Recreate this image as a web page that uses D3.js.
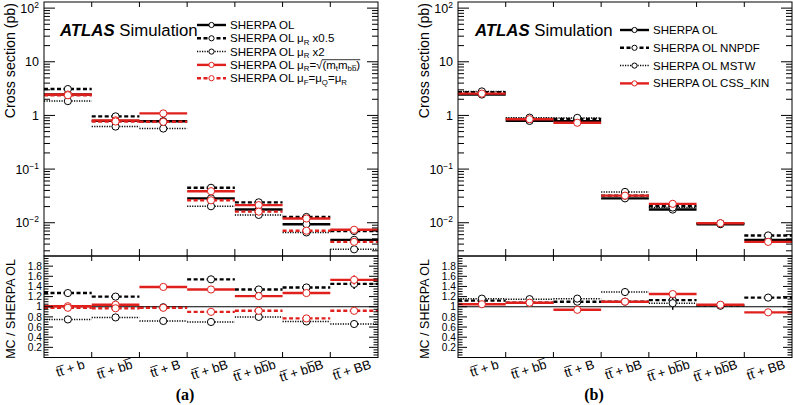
<!DOCTYPE html>
<html>
<head>
<meta charset="utf-8">
<script src="https://cdn.jsdelivr.net/npm/d3@7"></script>
<style>
  body { margin: 0; background: #fff; }
  svg { font-family: "Liberation Sans", Arial, sans-serif; }
</style>
</head>
<body>
<svg id="chart" width="793" height="405"></svg>
<script>
// Categories (bins)
const categories = ["tt\u0305 + b", "tt\u0305 + bb\u0305", "tt\u0305 + B", "tt\u0305 + bB",
  "tt\u0305 + bb\u0305b", "tt\u0305 + bb\u0305B", "tt\u0305 + BB"];

// Cross sections (pb), nominal SHERPA OL
const nominal = [2.45, 0.79, 0.78, 0.0285, 0.0176, 0.0094, 0.0048];

// Panel (a): scale variations
const muHalf = [3.1, 0.96, 0.77, 0.0448, 0.0240, 0.0128, 0.0070];
const muTwo = [1.85, 0.62, 0.57, 0.0203, 0.0140, 0.0066, 0.0032];
const muSqrt = [2.45, 0.81, 1.09, 0.0387, 0.0213, 0.0120, 0.0074];
const muFQ = [2.38, 0.77, 0.76, 0.0262, 0.0161, 0.0071, 0.0044];

const muHalfRatio = [1.27, 1.20, 0.99, 1.54, 1.34, 1.38, 1.45];
const muTwoRatio = [0.75, 0.79, 0.72, 0.70, 0.80, 0.71, 0.66];
const muSqrtRatio = [1.01, 1.04, 1.39, 1.34, 1.21, 1.27, 1.53];
const muFQRatio = [0.98, 0.97, 0.98, 0.90, 0.92, 0.77, 0.92];

const muHalfErr = [0.01, 0.01, 0.01, 0.02, 0.04, 0.04, 0.10];
const muSqrtErr = [0.01, 0.01, 0.01, 0.02, 0.06, 0.06, 0.09];
const muFQErr = [0.01, 0.01, 0.01, 0.01, 0.03, 0.02, 0.02];

// Panel (b): PDF and shower variations
const nnpdf = [2.7, 0.86, 0.86, 0.032, 0.0203, 0.0097, 0.0058];
const mstw = [2.8, 0.91, 0.90, 0.0375, 0.0192, 0.0097, null];
const cssKin = [2.55, 0.85, 0.73, 0.032, 0.0225, 0.0098, 0.0044];

const nnpdfRatio = [1.12, 1.08, 1.10, 1.10, 1.13, 1.03, 1.18];
const mstwRatio = [1.16, 1.15, 1.16, 1.29, 1.07, 1.02, null];
const cssKinRatio = [1.05, 1.08, 0.94, 1.10, 1.25, 1.04, 0.89];

const nnpdfErr = [0.01, 0.01, 0.01, 0.02, 0.10, 0.05, 0.06];
const mstwErr = [0.01, 0.01, 0.01, 0.02, 0.13, 0.05, 0];
const cssKinErr = [0.01, 0.01, 0.01, 0.02, 0.04, 0.04, 0.02];

const red = "#e0201c";
const styles = {
  solid: {dash: null, width: 2.4},
  dashed: {dash: "4,2.5", width: 2.4},
  dotted: {dash: "1.2,1.3", width: 1.5}
};

let svg = d3.select("#chart");

function drawPanel(p) {
  let g = svg.append("g");
  let x = d3.scaleLinear().domain([0, categories.length]).range([p.x0, p.x1]);
  let y = d3.scaleLog().domain([2.4e-3, 130]).range([256, 2]);
  let yr = d3.scaleLinear().domain([0, 2]).range([357.5, 256]);

  // Ratio reference line
  g.append("line")
    .attr("x1", p.x0).attr("x2", p.x1)
    .attr("y1", yr(1)).attr("y2", yr(1))
    .attr("stroke", "#000").attr("stroke-width", 1);

  // Series
  p.series.forEach(s => {
    let st = styles[s.style];
    let drawSet = (vals, scale, errs) => {
      let sg = g.append("g");
      vals.forEach((v, i) => {
        if (v == null) return;
        sg.append("line")
          .attr("x1", x(i)).attr("x2", x(i + 1))
          .attr("y1", scale(v)).attr("y2", scale(v))
          .attr("stroke", s.color).attr("stroke-width", st.width)
          .attr("stroke-dasharray", st.dash);
        if (errs && errs[i] > 0.015) {
          sg.append("line")
            .attr("x1", x(i + 0.5)).attr("x2", x(i + 0.5))
            .attr("y1", scale(v - errs[i])).attr("y2", scale(v + errs[i]))
            .attr("stroke", s.color).attr("stroke-width", 1.5);
        }
        sg.append("circle")
          .attr("cx", x(i + 0.5)).attr("cy", scale(v)).attr("r", 3.6)
          .attr("fill", "#fff").attr("stroke", s.color).attr("stroke-width", 1);
      });
    };
    if (s.main) drawSet(s.main, y, null);
    if (s.ratio) drawSet(s.ratio, yr, s.err);
  });

  // Frames
  [[2, 256], [256, 357.5]].forEach(([t, b]) => {
    g.append("rect")
      .attr("x", p.x0).attr("y", t)
      .attr("width", p.x1 - p.x0).attr("height", b - t)
      .attr("fill", "none").attr("stroke", "#000").attr("stroke-width", 1);
  });

  // Log y ticks (both sides)
  let majors = [1e-2, 1e-1, 1, 10, 100];
  let minors = [];
  for (let e = -3; e <= 2; e++) {
    for (let m = 2; m <= 9; m++) {
      let v = m * Math.pow(10, e);
      if (v >= 2.4e-3 && v <= 130) minors.push(v);
    }
  }
  let tickG = g.append("g").attr("stroke", "#000").attr("stroke-width", 1);
  majors.forEach(v => {
    tickG.append("line").attr("x1", p.x0).attr("x2", p.x0 + 11).attr("y1", y(v)).attr("y2", y(v));
    tickG.append("line").attr("x1", p.x1).attr("x2", p.x1 - 11).attr("y1", y(v)).attr("y2", y(v));
  });
  minors.forEach(v => {
    tickG.append("line").attr("x1", p.x0).attr("x2", p.x0 + 6).attr("y1", y(v)).attr("y2", y(v));
    tickG.append("line").attr("x1", p.x1).attr("x2", p.x1 - 6).attr("y1", y(v)).attr("y2", y(v));
  });

  // Ratio y ticks
  d3.range(0.05, 2.0, 0.05).forEach(v => {
    let major = Math.abs(v * 5 - Math.round(v * 5)) < 1e-6;
    let len = major ? 9 : 4.5;
    tickG.append("line").attr("x1", p.x0).attr("x2", p.x0 + len).attr("y1", yr(v)).attr("y2", yr(v));
    tickG.append("line").attr("x1", p.x1).attr("x2", p.x1 - len).attr("y1", yr(v)).attr("y2", yr(v));
  });

  // X ticks at bin edges
  d3.range(1, categories.length).forEach(i => {
    tickG.append("line").attr("x1", x(i)).attr("x2", x(i)).attr("y1", 2).attr("y2", 7);
    tickG.append("line").attr("x1", x(i)).attr("x2", x(i)).attr("y1", 256).attr("y2", 249);
    tickG.append("line").attr("x1", x(i)).attr("x2", x(i)).attr("y1", 256).attr("y2", 261);
    tickG.append("line").attr("x1", x(i)).attr("x2", x(i)).attr("y1", 357.5).attr("y2", 352);
  });

  // Y tick labels (main)
  let powers = {100: "2", 10: "", 1: "", 0.1: "\u22121", 0.01: "\u22122"};
  majors.forEach(v => {
    let t = g.append("text")
      .attr("x", p.x0 - 5).attr("y", y(v) + 4.5)
      .attr("text-anchor", "end").attr("font-size", 12.5);
    if (v === 1) { t.text("1"); return; }
    t.append("tspan").text("10");
    if (powers[v]) {
      t.append("tspan").attr("dy", -5).attr("font-size", 8.5).text(powers[v]);
    }
  });

  // Y tick labels (ratio)
  d3.range(1, 10).forEach(k => {
    let v = k * 0.2;
    g.append("text")
      .attr("x", p.x0 - 2).attr("y", yr(v) + 3.6)
      .attr("text-anchor", "end").attr("font-size", 10.2)
      .text(Math.abs(v - 1) < 1e-6 ? "1" : d3.format(".1f")(v));
  });

  // X labels
  categories.forEach((c, i) => {
    let px = x(i + 1) - 6, py = 368;
    g.append("text")
      .attr("transform", `translate(${px},${py}) rotate(-18)`)
      .attr("text-anchor", "end").attr("font-size", 13)
      .text(c);
  });

  // Axis titles
  g.append("text")
    .attr("transform", `translate(${p.x0 - 29},3) rotate(-90)`)
    .attr("text-anchor", "end").attr("font-size", 14.2)
    .text("Cross section (pb)");
  g.append("text")
    .attr("transform", `translate(${p.x0 - 29},259) rotate(-90)`)
    .attr("text-anchor", "end").attr("font-size", 12.5)
    .text("MC / SHERPA OL");

  // Panel letter
  g.append("text")
    .attr("x", p.letterX).attr("y", 400)
    .attr("text-anchor", "middle")
    .attr("font-family", "Liberation Serif, serif").attr("font-weight", "bold")
    .attr("font-size", 16)
    .text(p.letter);

  // ATLAS label
  let at = g.append("text").attr("x", p.atlasX).attr("y", 36).attr("font-size", 16.8);
  at.append("tspan").attr("font-weight", "bold").attr("font-style", "italic").text("ATLAS");
  at.append("tspan").text(" Simulation");

  // Legend
  p.series.forEach((s, k) => {
    let ly = p.legY + k * p.legStep;
    let st = styles[s.style];
    g.append("line")
      .attr("x1", p.legX).attr("x2", p.legX + 29)
      .attr("y1", ly).attr("y2", ly)
      .attr("stroke", s.color).attr("stroke-width", st.width)
      .attr("stroke-dasharray", st.dash);
    g.append("circle")
      .attr("cx", p.legX + 14.5).attr("cy", ly).attr("r", 2.6)
      .attr("fill", "#fff").attr("stroke", s.color).attr("stroke-width", 1);
    let t = g.append("text")
      .attr("x", p.legX + 33).attr("y", ly + 4).attr("font-size", 11.5);
    s.label.forEach(part => {
      let sp = t.append("tspan").text(part.t);
      if (part.sub) sp.attr("font-size", 7.8).attr("dy", 2.5);
      if (part.up) sp.attr("dy", -2.5);
    });
    // overline for square root
    let full = t.text();
    let idx = full.indexOf("\u221a");
    if (idx >= 0) {
      let node = t.node();
      let ext = node.getExtentOfChar(idx);
      let bb = node.getBBox();
      g.append("line")
        .attr("x1", ext.x + ext.width - 0.5).attr("x2", bb.x + bb.width)
        .attr("y1", ext.y + 0.8).attr("y2", ext.y + 0.8)
        .attr("stroke", "#000").attr("stroke-width", 0.8);
    }
  });
}

const sub = t => ({t: t, sub: true});
const up = t => ({t: t, up: true});

drawPanel({
  x0: 44, x1: 378, letter: "(a)", letterX: 185, atlasX: 60,
  legX: 197, legY: 25, legStep: 13.3,
  series: [
    {main: nominal, ratio: null, color: "#000", style: "solid",
      label: [{t: "SHERPA OL"}]},
    {main: muHalf, ratio: muHalfRatio, err: muHalfErr, color: "#000", style: "dashed",
      label: [{t: "SHERPA OL \u03bc"}, sub("R"), up(" x0.5")]},
    {main: muTwo, ratio: muTwoRatio, err: null, color: "#000", style: "dotted",
      label: [{t: "SHERPA OL \u03bc"}, sub("R"), up(" x2")]},
    {main: muSqrt, ratio: muSqrtRatio, err: muSqrtErr, color: red, style: "solid",
      label: [{t: "SHERPA OL \u03bc"}, sub("R"), up("=\u221a(m"), sub("t"), up("m"), sub("bb\u0305"), up(")")]},
    {main: muFQ, ratio: muFQRatio, err: muFQErr, color: red, style: "dashed",
      label: [{t: "SHERPA OL \u03bc"}, sub("F"), up("=\u03bc"), sub("Q"), up("=\u03bc"), sub("R")]}
  ]
});

drawPanel({
  x0: 458, x1: 792, letter: "(b)", letterX: 594, atlasX: 475,
  legX: 620, legY: 30, legStep: 17.8,
  series: [
    {main: nominal, ratio: null, color: "#000", style: "solid",
      label: [{t: "SHERPA OL"}]},
    {main: nnpdf, ratio: nnpdfRatio, err: nnpdfErr, color: "#000", style: "dashed",
      label: [{t: "SHERPA OL NNPDF"}]},
    {main: mstw, ratio: mstwRatio, err: mstwErr, color: "#000", style: "dotted",
      label: [{t: "SHERPA OL MSTW"}]},
    {main: cssKin, ratio: cssKinRatio, err: cssKinErr, color: red, style: "solid",
      label: [{t: "SHERPA OL CSS_KIN"}]}
  ]
});
</script>
</body>
</html>
